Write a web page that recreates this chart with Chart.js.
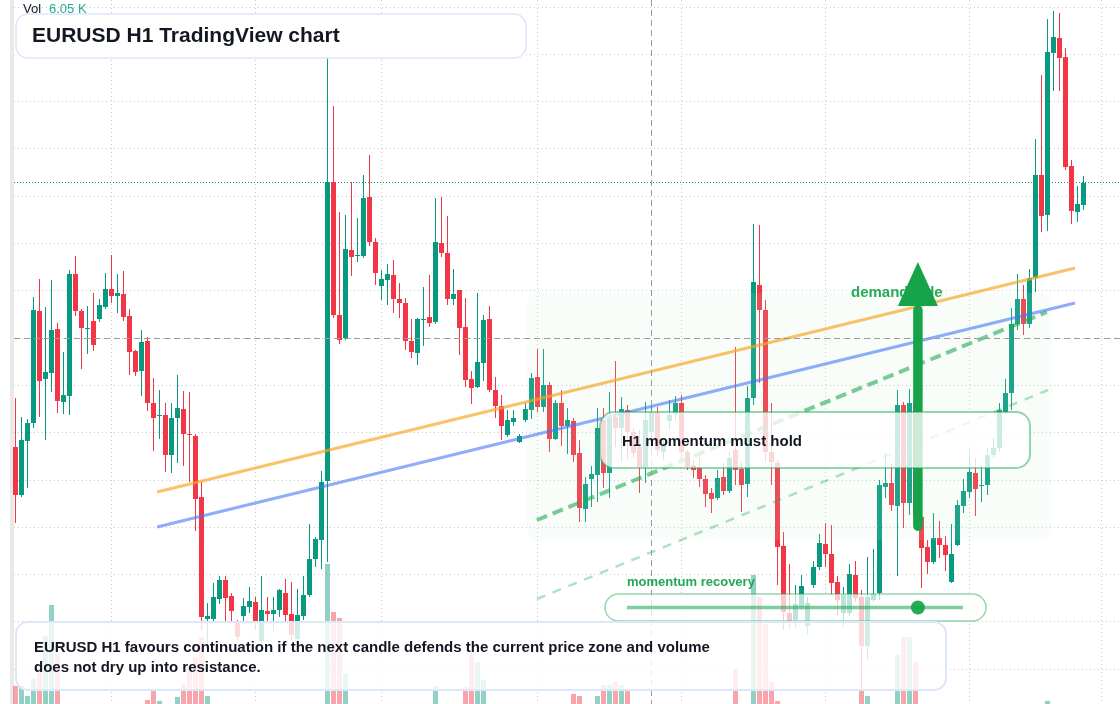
<!DOCTYPE html>
<html>
<head>
<meta charset="utf-8">
<title>EURUSD H1</title>
<script src="https://cdn.jsdelivr.net/npm/chart.js@4.4.1/dist/chart.umd.min.js"></script>
<style>
  html, body { margin: 0; padding: 0; background: #fff; }
  #wrap { width: 1120px; height: 704px; position: relative; }
</style>
</head>
<body>
<div id="wrap"><canvas id="chart" width="1120" height="704"></canvas></div>
<script>
// EURUSD H1 candles, index 0..178
const opens = [
  1.09553, 1.09505, 1.09559, 1.09577, 1.09689, 1.09621, 1.09627, 1.09671, 1.09598, 1.09604,
  1.09726, 1.09689, 1.09671, 1.09679, 1.09681, 1.09693, 1.09711, 1.09704, 1.09706, 1.09684,
  1.09649, 1.09629, 1.09659, 1.09597, 1.09584, 1.09585, 1.09545, 1.09582, 1.09591, 1.09566,
  1.09564, 1.09503, 1.09381, 1.09381, 1.09401, 1.09420, 1.09404, 1.09377, 1.09384, 1.09393,
  1.09398, 1.09359, 1.09389, 1.09386, 1.09390, 1.09407, 1.09386, 1.09361, 1.09384, 1.09405,
  1.09441, 1.09460, 1.09519, 1.09818, 1.09685, 1.09662, 1.09750, 1.09744, 1.09744, 1.09803,
  1.09758, 1.09714, 1.09720, 1.09725, 1.09701, 1.09697, 1.09659, 1.09647, 1.09680, 1.09683,
  1.09678, 1.09757, 1.09747, 1.09701, 1.09710, 1.09673, 1.09621, 1.09613, 1.09637, 1.09681,
  1.09610, 1.09594, 1.09565, 1.09578, 1.09558, 1.09580, 1.09590, 1.09623, 1.09593, 1.09615,
  1.09561, 1.09597, 1.09574, 1.09579, 1.09547, 1.09491, 1.09521, 1.09525, 1.09580, 1.09527,
  1.09583, 1.09572, 1.09590, 1.09568, 1.09553, 1.09533, 1.09568, 1.09588, 1.09548, 1.09579,
  1.09586, 1.09597, 1.09548, 1.09535, 1.09532, 1.09521, 1.09507, 1.09502, 1.09523, 1.09509,
  1.09550, 1.09531, 1.09516, 1.09602, 1.09715, 1.09690, 1.09548, 1.09537, 1.09454, 1.09387,
  1.09380, 1.09393, 1.09374, 1.09415, 1.09433, 1.09456, 1.09446, 1.09418, 1.09387, 1.09387,
  1.09425, 1.09403, 1.09354, 1.09400, 1.09407, 1.09513, 1.09517, 1.09494, 1.09595, 1.09497,
  1.09597, 1.09483, 1.09453, 1.09438, 1.09462, 1.09455, 1.09418, 1.09455, 1.09494, 1.09508,
  1.09527, 1.09514, 1.09515, 1.09545, 1.09552, 1.09588, 1.09607, 1.09676, 1.09701, 1.09676,
  1.09722, 1.09825, 1.09785, 1.09947, 1.09962, 1.09943, 1.09834, 1.09788, 1.09795
];
const highs = [
  1.09602, 1.09583, 1.09581, 1.09703, 1.09721, 1.09693, 1.09720, 1.09677, 1.09648, 1.09730,
  1.09744, 1.09691, 1.09694, 1.09707, 1.09701, 1.09727, 1.09745, 1.09726, 1.09729, 1.09691,
  1.09650, 1.09670, 1.09663, 1.09622, 1.09610, 1.09597, 1.09597, 1.09625, 1.09609, 1.09608,
  1.09566, 1.09518, 1.09397, 1.09417, 1.09424, 1.09424, 1.09407, 1.09380, 1.09402, 1.09413,
  1.09403, 1.09424, 1.09403, 1.09403, 1.09411, 1.09421, 1.09418, 1.09411, 1.09424, 1.09476,
  1.09463, 1.09529, 1.09942, 1.09894, 1.09788, 1.09785, 1.09818, 1.09782, 1.09825, 1.09845,
  1.09762, 1.09730, 1.09736, 1.09740, 1.09717, 1.09702, 1.09681, 1.09682, 1.09713, 1.09725,
  1.09802, 1.09803, 1.09784, 1.09731, 1.09710, 1.09702, 1.09629, 1.09707, 1.09685, 1.09694,
  1.09623, 1.09605, 1.09590, 1.09590, 1.09566, 1.09597, 1.09627, 1.09651, 1.09651, 1.09618,
  1.09600, 1.09610, 1.09592, 1.09582, 1.09560, 1.09523, 1.09534, 1.09592, 1.09592, 1.09608,
  1.09639, 1.09603, 1.09595, 1.09572, 1.09570, 1.09598, 1.09597, 1.09593, 1.09560, 1.09600,
  1.09604, 1.09605, 1.09550, 1.09540, 1.09543, 1.09525, 1.09512, 1.09530, 1.09537, 1.09548,
  1.09653, 1.09538, 1.09614, 1.09776, 1.09775, 1.09700, 1.09597, 1.09540, 1.09468, 1.09436,
  1.09415, 1.09425, 1.09403, 1.09439, 1.09466, 1.09477, 1.09475, 1.09424, 1.09413, 1.09436,
  1.09439, 1.09410, 1.09443, 1.09451, 1.09520, 1.09547, 1.09536, 1.09610, 1.09598, 1.09611,
  1.09604, 1.09490, 1.09460, 1.09487, 1.09479, 1.09464, 1.09476, 1.09500, 1.09521, 1.09551,
  1.09542, 1.09535, 1.09552, 1.09562, 1.09597, 1.09621, 1.09692, 1.09726, 1.09715, 1.09731,
  1.09861, 1.09925, 1.09981, 1.09989, 1.09987, 1.09952, 1.09840, 1.09814, 1.09824
];
const lows = [
  1.09477, 1.09503, 1.09512, 1.09572, 1.09583, 1.09560, 1.09608, 1.09587, 1.09586, 1.09585,
  1.09684, 1.09631, 1.09646, 1.09649, 1.09678, 1.09691, 1.09697, 1.09687, 1.09679, 1.09625,
  1.09624, 1.09604, 1.09589, 1.09549, 1.09561, 1.09528, 1.09527, 1.09537, 1.09534, 1.09518,
  1.09469, 1.09370, 1.09350, 1.09377, 1.09396, 1.09379, 1.09379, 1.09360, 1.09377, 1.09387,
  1.09370, 1.09357, 1.09378, 1.09369, 1.09383, 1.09377, 1.09360, 1.09357, 1.09380, 1.09403,
  1.09433, 1.09431, 1.09438, 1.09682, 1.09656, 1.09660, 1.09724, 1.09738, 1.09742, 1.09754,
  1.09715, 1.09700, 1.09695, 1.09687, 1.09682, 1.09650, 1.09642, 1.09635, 1.09654, 1.09673,
  1.09676, 1.09743, 1.09695, 1.09695, 1.09645, 1.09613, 1.09596, 1.09612, 1.09619, 1.09608,
  1.09582, 1.09560, 1.09563, 1.09574, 1.09557, 1.09578, 1.09581, 1.09588, 1.09588, 1.09548,
  1.09560, 1.09554, 1.09546, 1.09538, 1.09478, 1.09478, 1.09493, 1.09498, 1.09512, 1.09502,
  1.09553, 1.09538, 1.09540, 1.09542, 1.09507, 1.09517, 1.09551, 1.09545, 1.09540, 1.09570,
  1.09580, 1.09540, 1.09530, 1.09522, 1.09513, 1.09493, 1.09487, 1.09500, 1.09505, 1.09507,
  1.09515, 1.09488, 1.09503, 1.09595, 1.09617, 1.09538, 1.09515, 1.09415, 1.09370, 1.09371,
  1.09372, 1.09390, 1.09365, 1.09412, 1.09430, 1.09433, 1.09405, 1.09385, 1.09373, 1.09384,
  1.09398, 1.09310, 1.09340, 1.09398, 1.09400, 1.09502, 1.09489, 1.09424, 1.09472, 1.09485,
  1.09480, 1.09412, 1.09426, 1.09436, 1.09442, 1.09429, 1.09417, 1.09454, 1.09487, 1.09502,
  1.09484, 1.09498, 1.09505, 1.09542, 1.09548, 1.09586, 1.09590, 1.09670, 1.09665, 1.09672,
  1.09708, 1.09768, 1.09769, 1.09909, 1.09909, 1.09830, 1.09776, 1.09778, 1.09790
];
const closes = [
  1.09505, 1.09560, 1.09577, 1.09690, 1.09619, 1.09628, 1.09670, 1.09599, 1.09605, 1.09726,
  1.09689, 1.09672, 1.09672, 1.09655, 1.09695, 1.09711, 1.09704, 1.09707, 1.09683, 1.09648,
  1.09628, 1.09658, 1.09597, 1.09582, 1.09585, 1.09545, 1.09582, 1.09592, 1.09566, 1.09565,
  1.09501, 1.09383, 1.09384, 1.09403, 1.09420, 1.09402, 1.09389, 1.09363, 1.09394, 1.09399,
  1.09378, 1.09390, 1.09386, 1.09390, 1.09410, 1.09385, 1.09365, 1.09385, 1.09405, 1.09441,
  1.09461, 1.09518, 1.09818, 1.09685, 1.09660, 1.09751, 1.09743, 1.09745, 1.09802, 1.09758,
  1.09727, 1.09721, 1.09726, 1.09701, 1.09697, 1.09659, 1.09648, 1.09681, 1.09681, 1.09677,
  1.09758, 1.09747, 1.09701, 1.09706, 1.09672, 1.09620, 1.09612, 1.09638, 1.09680, 1.09610,
  1.09594, 1.09574, 1.09580, 1.09582, 1.09564, 1.09591, 1.09622, 1.09593, 1.09615, 1.09561,
  1.09597, 1.09574, 1.09580, 1.09545, 1.09492, 1.09516, 1.09526, 1.09572, 1.09527, 1.09582,
  1.09572, 1.09591, 1.09568, 1.09547, 1.09533, 1.09580, 1.09588, 1.09550, 1.09554, 1.09585,
  1.09597, 1.09548, 1.09533, 1.09530, 1.09521, 1.09506, 1.09501, 1.09522, 1.09509, 1.09542,
  1.09530, 1.09515, 1.09602, 1.09718, 1.09690, 1.09548, 1.09538, 1.09453, 1.09388, 1.09379,
  1.09396, 1.09414, 1.09397, 1.09433, 1.09457, 1.09446, 1.09417, 1.09400, 1.09405, 1.09426,
  1.09402, 1.09354, 1.09403, 1.09406, 1.09515, 1.09517, 1.09495, 1.09595, 1.09497, 1.09597,
  1.09484, 1.09452, 1.09438, 1.09462, 1.09455, 1.09445, 1.09446, 1.09495, 1.09509, 1.09528,
  1.09511, 1.09515, 1.09545, 1.09552, 1.09590, 1.09607, 1.09676, 1.09701, 1.09676, 1.09722,
  1.09825, 1.09784, 1.09948, 1.09963, 1.09942, 1.09833, 1.09789, 1.09796, 1.09817
];
// volume in thousands
const volumes = [
  1.13, 1.13, 0.5, 1.56, 2.5, 4.25, 6.19, 3.19, 0, 0,
  0, 0, 0, 0, 0, 0, 0, 0, 0, 0,
  0, 0, 0.25, 0.81, 0.19, 0, 0, 0.44, 1.25, 2.31,
  2.94, 4.19, 0.5, 0, 0, 0, 0, 0, 0, 0,
  0, 0, 0, 0, 0, 0, 0, 0, 0, 0,
  0, 0, 8.75, 5.75, 5.38, 1.88, 0, 0, 0, 0,
  0, 0, 0, 0, 0, 0, 0, 0, 0, 0,
  1.13, 0, 0, 0, 0, 1.06, 3.19, 2.63, 1.5, 0,
  0, 0, 0, 0, 0, 0, 0, 0, 0, 0,
  0, 0, 0, 0.63, 0.5, 0, 0, 0.5, 1.19, 1.19,
  1.38, 1.19, 0.81, 0, 0, 0, 0, 0, 0, 0,
  0, 0, 0, 0, 0, 0, 0, 0, 0, 0,
  2.19, 0, 0, 8.06, 6.69, 5.0, 1.38, 0.19, 0, 0,
  0, 0, 0, 0, 0, 0, 0, 0, 0, 0,
  0, 0.88, 0.5, 0, 0, 0, 0, 3.06, 4.19, 4.19,
  2.63, 0, 0, 0, 0, 0, 0, 0, 0, 0,
  0, 0, 0, 0, 0, 0, 0, 0, 0, 0,
  0, 0, 0.19, 0, 0, 0, 0, 0, 0
];
const priceGrid = [1.09993, 1.099457, 1.098984, 1.098511, 1.098038, 1.097565, 1.097091,
  1.096618, 1.096145, 1.095672, 1.095199, 1.094726, 1.094253, 1.09378, 1.093307];
const timeGrid = [16, 40, 61, 87, 111, 135, 159, 181];
const lastVolume = '6.05 K';

// drawings in bar-index / price coordinates
const resistanceLine = [{ x: 23.6, y: 1.09508 }, { x: 176.6, y: 1.09732 }];
const supportLine = [{ x: 23.6, y: 1.09473 }, { x: 176.6, y: 1.09697 }];
const momentumLine = [{ x: 86.9, y: 1.09480 }, { x: 171.9, y: 1.09688 }];
const lowerMomentumLine = [{ x: 86.9, y: 1.09401 }, { x: 172.1, y: 1.09610 }];
const demandZone = { from: 85.25, to: 172.75, top: 1.09707, bottom: 1.09460 };
const demandArrow = { x: 150.4, tail: 1.09469, headBase: 1.09694, tip: 1.09738 };
const crosshair = { x: 106, y: 1.096618 };

const UP = '#089981', DOWN = '#f23645';
const FONT = '"Liberation Sans", Arial, Helvetica, sans-serif';
const idx = opens.map((_, i) => i);
const isUp = idx.map(i => closes[i] >= opens[i]);

function rrect(ctx, x, y, w, h, r) {
    ctx.beginPath();
    ctx.moveTo(x + r, y);
    ctx.arcTo(x + w, y, x + w, y + h, r);
    ctx.arcTo(x + w, y + h, x, y + h, r);
    ctx.arcTo(x, y + h, x, y, r);
    ctx.arcTo(x, y, x + w, y, r);
    ctx.closePath();
}

function hline(ctx, x1, x2, y) {
    ctx.beginPath(); ctx.moveTo(x1, y); ctx.lineTo(x2, y); ctx.stroke();
}
function vline(ctx, x, y1, y2) {
    ctx.beginPath(); ctx.moveTo(x, y1); ctx.lineTo(x, y2); ctx.stroke();
}

const BODY_DATASET = 2;

const overlay = {
    id: 'overlay',
    beforeDatasetsDraw(chart) {
        const { ctx, scales: { x, y } } = chart;
        ctx.save();
        // dotted grid
        ctx.strokeStyle = '#c9c9c9';
        ctx.lineWidth = 1;
        ctx.setLineDash([1, 3]);
        priceGrid.forEach(p => hline(ctx, 14, 1120, Math.floor(y.getPixelForValue(p)) + 0.5));
        timeGrid.forEach(t => vline(ctx, Math.floor(x.getPixelForValue(t)) + 0.5, 0, 704));
        // last price line
        ctx.strokeStyle = UP;
        ctx.setLineDash([1, 2]);
        hline(ctx, 14, 1120, Math.floor(y.getPixelForValue(closes[closes.length - 1])) + 0.5);
        ctx.setLineDash([]);
        // left edge strip
        ctx.fillStyle = '#e9e9e9';
        ctx.fillRect(10, 0, 4, 704);
        ctx.restore();
    },
    afterDatasetDraw(chart, args) {
        if (args.index !== BODY_DATASET) return;
        const { ctx, scales: { x, y } } = chart;
        const x1 = x.getPixelForValue(demandZone.from), x2 = x.getPixelForValue(demandZone.to);
        const y1 = y.getPixelForValue(demandZone.top), y2 = y.getPixelForValue(demandZone.bottom);
        ctx.save();
        rrect(ctx, x1, y1, x2 - x1, y2 - y1, 12);
        ctx.fillStyle = 'rgba(200,240,210,0.12)';
        ctx.fill();
        ctx.restore();
    },
    afterDatasetsDraw(chart) {
        const { ctx, scales: { x, y } } = chart;
        ctx.save();
        // crosshair
        ctx.strokeStyle = '#9b9b9b';
        ctx.lineWidth = 1;
        ctx.setLineDash([6, 4]);
        hline(ctx, 14, 1120, Math.floor(y.getPixelForValue(crosshair.y)) + 0.5);
        vline(ctx, Math.floor(x.getPixelForValue(crosshair.x)) + 0.5, 0, 704);
        ctx.setLineDash([]);

        ctx.textBaseline = 'middle';
        ctx.textAlign = 'left';

        // demand side label + arrow
        ctx.fillStyle = 'rgba(22,163,74,0.92)';
        ctx.font = 'bold 15px ' + FONT;
        ctx.fillText('demand side', 851, 293);

        const ax = x.getPixelForValue(demandArrow.x);
        const tail = y.getPixelForValue(demandArrow.tail);
        const base = y.getPixelForValue(demandArrow.headBase);
        const tip = y.getPixelForValue(demandArrow.tip);
        ctx.strokeStyle = '#16a34a';
        ctx.fillStyle = '#16a34a';
        ctx.lineWidth = 9.5;
        ctx.lineCap = 'round';
        ctx.beginPath(); ctx.moveTo(ax, tail - 4.75); ctx.lineTo(ax, base + 4); ctx.stroke();
        ctx.lineCap = 'butt';
        ctx.beginPath();
        ctx.moveTo(ax, tip);
        ctx.lineTo(ax + 20, base);
        ctx.lineTo(ax - 20, base);
        ctx.closePath();
        ctx.fill();

        // H1 momentum box
        rrect(ctx, 600, 412, 430, 56, 14);
        ctx.fillStyle = 'rgba(255,255,255,0.78)';
        ctx.fill();
        ctx.strokeStyle = 'rgba(22,163,74,0.45)';
        ctx.lineWidth = 2;
        ctx.stroke();
        ctx.fillStyle = '#131722';
        ctx.font = 'bold 15px ' + FONT;
        ctx.fillText('H1 momentum must hold', 622, 441.5);

        // momentum recovery pill
        ctx.fillStyle = 'rgba(22,163,74,0.95)';
        ctx.font = 'bold 13px ' + FONT;
        ctx.fillText('momentum recovery', 627, 582);
        rrect(ctx, 605, 594, 381, 27, 13.5);
        ctx.fillStyle = 'rgba(255,255,255,0.72)';
        ctx.fill();
        ctx.strokeStyle = 'rgba(22,163,74,0.45)';
        ctx.lineWidth = 1.5;
        ctx.stroke();
        ctx.strokeStyle = 'rgba(22,163,74,0.55)';
        ctx.lineWidth = 3.5;
        hline(ctx, 627, 963, 607.5);
        ctx.fillStyle = 'rgba(22,163,74,0.92)';
        ctx.beginPath(); ctx.arc(ax, 607.5, 7, 0, Math.PI * 2); ctx.fill();

        // bottom note
        rrect(ctx, 16, 622, 930, 68, 12);
        ctx.fillStyle = 'rgba(255,255,255,0.82)';
        ctx.fill();
        ctx.strokeStyle = '#dce7f8';
        ctx.lineWidth = 2;
        ctx.stroke();
        ctx.fillStyle = '#131722';
        ctx.font = 'bold 15px ' + FONT;
        ctx.fillText('EURUSD H1 favours continuation if the next candle defends the current price zone and volume', 34, 648);
        ctx.fillText('does not dry up into resistance.', 34, 668);

        // title
        rrect(ctx, 16, 14, 510, 44, 12);
        ctx.fillStyle = 'rgba(255,255,255,0.94)';
        ctx.fill();
        ctx.strokeStyle = '#dce7f8';
        ctx.lineWidth = 1.5;
        ctx.stroke();
        ctx.fillStyle = '#131722';
        ctx.font = 'bold 21px ' + FONT;
        ctx.fillText('EURUSD H1 TradingView chart', 32, 36.5);

        // volume legend
        ctx.font = '13px ' + FONT;
        ctx.fillStyle = '#131722';
        ctx.fillText('Vol', 23, 9);
        ctx.fillStyle = '#22ab94';
        ctx.fillText(lastVolume, 49, 9);
        ctx.restore();
    }
};

const lineDs = (data, color, width, dash) => ({
    type: 'line',
    data: data,
    borderColor: color,
    borderWidth: width,
    borderDash: dash,
    pointRadius: 0,
    tension: 0,
    order: 1,
    yAxisID: 'y'
});

new Chart(document.getElementById('chart'), {
    type: 'bar',
    data: {
        datasets: [
            {
                label: 'Volume',
                data: idx.map(i => ({ x: i, y: volumes[i] })),
                backgroundColor: idx.map(i => isUp[i] ? 'rgba(8,153,129,0.45)' : 'rgba(242,54,69,0.45)'),
                barThickness: 5,
                grouped: false,
                inflateAmount: 0,
                yAxisID: 'yv',
                order: 4
            },
            {
                label: 'Wicks',
                data: idx.map(i => ({ x: i, y: [lows[i], highs[i]] })),
                backgroundColor: idx.map(i => isUp[i] ? UP : DOWN),
                barThickness: 1,
                grouped: false,
                inflateAmount: 0,
                yAxisID: 'y',
                order: 3
            },
            {
                label: 'Bodies',
                data: idx.map(i => ({ x: i, y: [Math.min(opens[i], closes[i]), Math.max(opens[i], closes[i])] })),
                backgroundColor: idx.map(i => isUp[i] ? UP : DOWN),
                barThickness: 5,
                minBarLength: 1,
                grouped: false,
                inflateAmount: 0,
                yAxisID: 'y',
                order: 2
            },
            lineDs(resistanceLine, 'rgba(245,166,35,0.68)', 3, []),
            lineDs(supportLine, 'rgba(66,120,245,0.6)', 3, []),
            lineDs(momentumLine, 'rgba(34,170,80,0.6)', 4, [11, 6]),
            lineDs(lowerMomentumLine, 'rgba(34,170,80,0.35)', 2.5, [9, 8])
        ]
    },
    options: {
        responsive: false,
        maintainAspectRatio: false,
        devicePixelRatio: 1,
        animation: false,
        events: [],
        layout: { padding: 0 },
        plugins: {
            legend: { display: false },
            tooltip: { enabled: false }
        },
        scales: {
            x: {
                type: 'linear',
                min: -15.5 / 6,
                max: (1120 - 15.5) / 6,
                offset: false,
                display: false
            },
            y: {
                type: 'linear',
                min: 1.09296,
                max: 1.10000,
                display: false
            },
            yv: {
                type: 'linear',
                min: 0,
                max: 44,
                display: false
            }
        }
    },
    plugins: [overlay]
});
</script>
</body>
</html>
